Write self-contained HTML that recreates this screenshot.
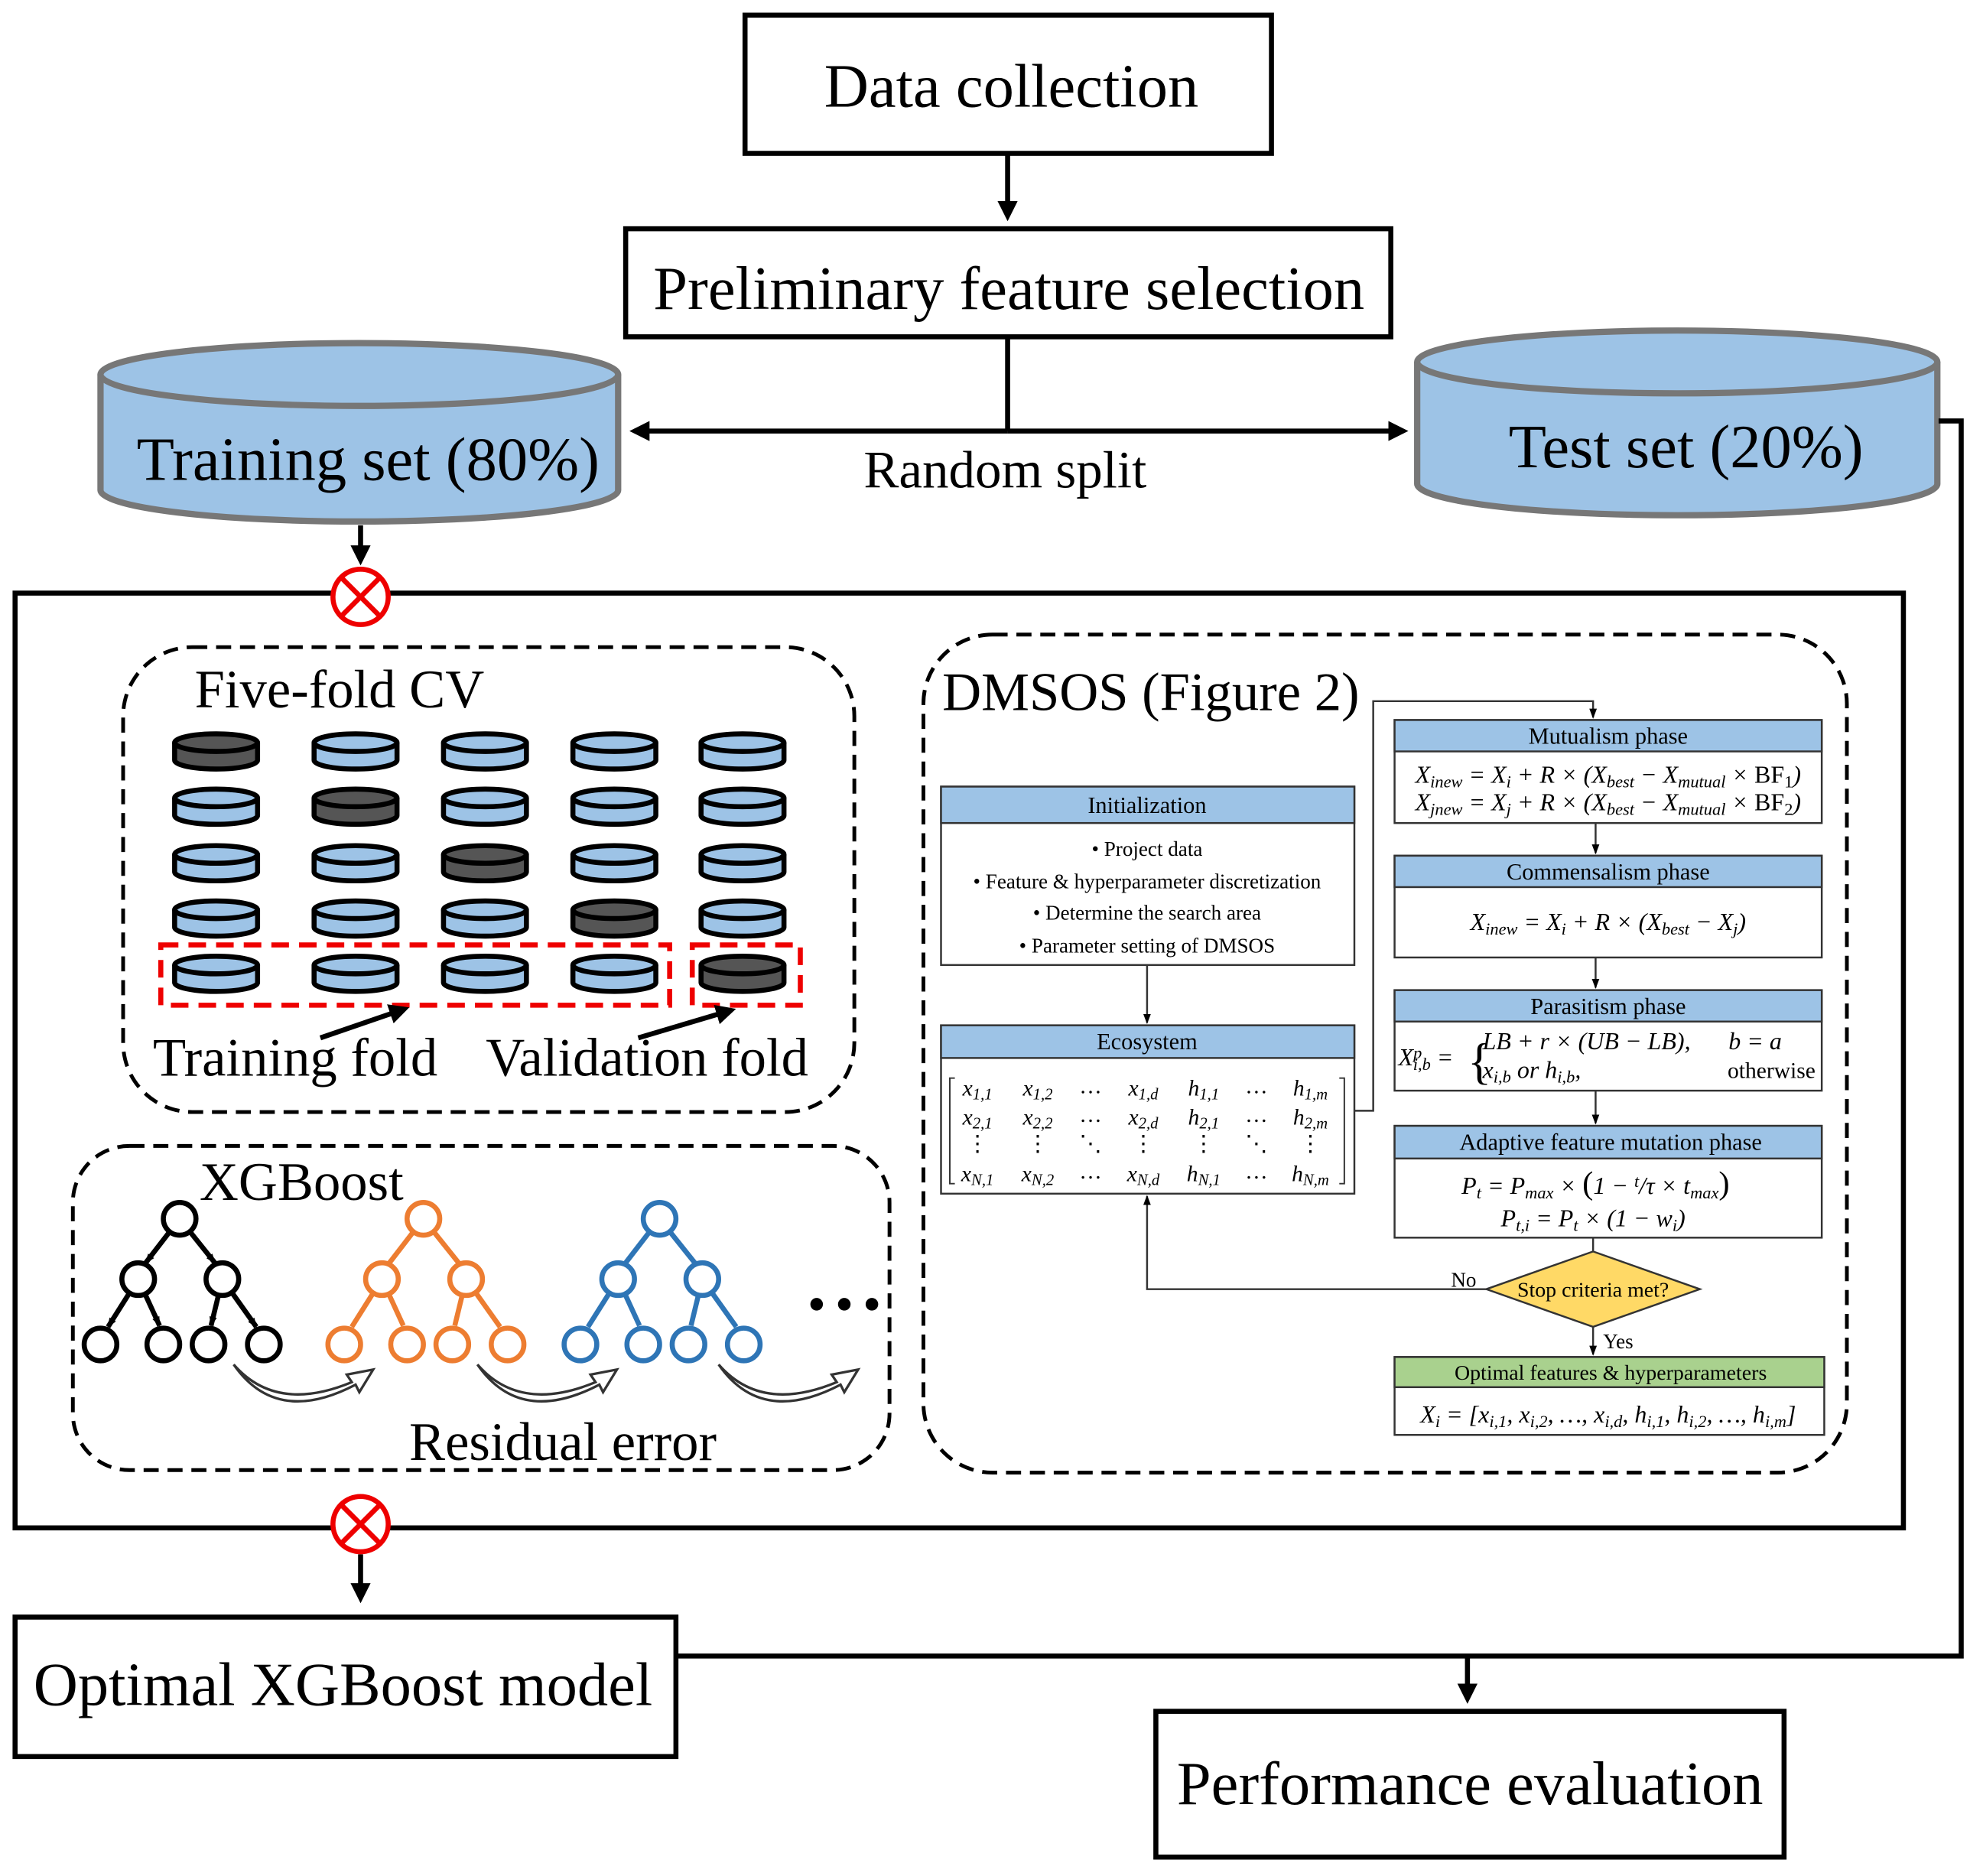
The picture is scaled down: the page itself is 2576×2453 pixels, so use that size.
<!DOCTYPE html>
<html><head><meta charset="utf-8"><style>html,body{margin:0;padding:0;background:#fff}svg{display:block}.s{font-size:70%;baseline-shift:-25%}.p{font-size:70%;baseline-shift:40%}</style></head><body>
<svg width="2576" height="2453" viewBox="0 0 1568 1493" xmlns="http://www.w3.org/2000/svg" font-family="'Liberation Serif', serif">
<defs>
<marker id="ab" markerWidth="4" markerHeight="4" refX="3" refY="2" orient="auto" markerUnits="strokeWidth"><path d="M0,0 L4,2 L0,4 z" fill="#000"/></marker>
<marker id="as" markerWidth="8" markerHeight="8" refX="7" refY="4" orient="auto" markerUnits="userSpaceOnUse"><path d="M0,1 L8,4 L0,7 z" fill="#000"/></marker>
<g id="disk"><path d="M-33,-7 L-33,7 A33,7 0 0 0 33,7 L33,-7" stroke="#000" stroke-width="4"/><ellipse cx="0" cy="-7" rx="33" ry="7" stroke="#000" stroke-width="4"/></g>
</defs>
<rect width="1568" height="1493" fill="#fff"/>
<rect x="593" y="12" width="419" height="110" fill="#fff" stroke="#000" stroke-width="4"/>
<text x="805" y="85" font-size="49" text-anchor="middle">Data collection</text>
<line x1="802" y1="122" x2="802" y2="172" stroke="#000" stroke-width="4" marker-end="url(#ab)"/>
<rect x="498" y="182" width="609" height="86" fill="#fff" stroke="#000" stroke-width="4"/>
<text x="803" y="246" font-size="49" text-anchor="middle">Preliminary feature selection</text>
<line x1="802" y1="268" x2="802" y2="343" stroke="#000" stroke-width="4"/>
<line x1="802" y1="343" x2="505" y2="343" stroke="#000" stroke-width="4" marker-end="url(#ab)"/>
<line x1="802" y1="343" x2="1117" y2="343" stroke="#000" stroke-width="4" marker-end="url(#ab)"/>
<text x="800" y="388" font-size="42" text-anchor="middle">Random split</text>
<path d="M80,298 L80,390 A206,25 0 0 0 492,390 L492,298" fill="#9dc3e6" stroke="#777" stroke-width="5"/>
<ellipse cx="286" cy="298" rx="206" ry="25" fill="#9dc3e6" stroke="#777" stroke-width="5"/>
<text x="293" y="382" font-size="49" text-anchor="middle">Training set (80%)</text>
<path d="M1128,288 L1128,385 A207,25 0 0 0 1542,385 L1542,288" fill="#9dc3e6" stroke="#777" stroke-width="5"/>
<ellipse cx="1335" cy="288" rx="207" ry="25" fill="#9dc3e6" stroke="#777" stroke-width="5"/>
<text x="1342" y="372" font-size="49" text-anchor="middle">Test set (20%)</text>
<polyline points="1543,335 1561,335 1561,1318 538,1318" fill="none" stroke="#000" stroke-width="4"/>
<line x1="1168" y1="1318" x2="1168" y2="1352" stroke="#000" stroke-width="4" marker-end="url(#ab)"/>
<rect x="920" y="1362" width="500" height="116" fill="#fff" stroke="#000" stroke-width="4"/>
<text x="1170" y="1436" font-size="49" text-anchor="middle">Performance evaluation</text>
<rect x="12" y="1287" width="526" height="111" fill="#fff" stroke="#000" stroke-width="4"/>
<text x="273" y="1357" font-size="49" text-anchor="middle">Optimal XGBoost model</text>
<rect x="12" y="472" width="1503" height="744" fill="none" stroke="#000" stroke-width="4"/>
<line x1="287" y1="418" x2="287" y2="446" stroke="#000" stroke-width="4" marker-end="url(#ab)"/>
<g stroke="#e00" stroke-width="4" fill="#fff"><circle cx="287" cy="475" r="22"/><path d="M272,460 L302,490 M302,460 L272,490"/></g>
<line x1="287" y1="1237" x2="287" y2="1272" stroke="#000" stroke-width="4" marker-end="url(#ab)"/>
<g stroke="#e00" stroke-width="4" fill="#fff"><circle cx="287" cy="1213" r="22"/><path d="M272,1198 L302,1228 M302,1198 L272,1228"/></g>
<rect x="98" y="515" width="582" height="370" rx="55" fill="none" stroke="#000" stroke-width="3" stroke-dasharray="12,7"/>
<text x="155" y="563" font-size="43">Five-fold CV</text>
<g>
<use href="#disk" x="172" y="598" fill="#555"/><use href="#disk" x="283" y="598" fill="#9dc3e6"/><use href="#disk" x="386" y="598" fill="#9dc3e6"/><use href="#disk" x="489" y="598" fill="#9dc3e6"/><use href="#disk" x="591" y="598" fill="#9dc3e6"/>
<use href="#disk" x="172" y="642" fill="#9dc3e6"/><use href="#disk" x="283" y="642" fill="#555"/><use href="#disk" x="386" y="642" fill="#9dc3e6"/><use href="#disk" x="489" y="642" fill="#9dc3e6"/><use href="#disk" x="591" y="642" fill="#9dc3e6"/>
<use href="#disk" x="172" y="687" fill="#9dc3e6"/><use href="#disk" x="283" y="687" fill="#9dc3e6"/><use href="#disk" x="386" y="687" fill="#555"/><use href="#disk" x="489" y="687" fill="#9dc3e6"/><use href="#disk" x="591" y="687" fill="#9dc3e6"/>
<use href="#disk" x="172" y="731" fill="#9dc3e6"/><use href="#disk" x="283" y="731" fill="#9dc3e6"/><use href="#disk" x="386" y="731" fill="#9dc3e6"/><use href="#disk" x="489" y="731" fill="#555"/><use href="#disk" x="591" y="731" fill="#9dc3e6"/>
<use href="#disk" x="172" y="775" fill="#9dc3e6"/><use href="#disk" x="283" y="775" fill="#9dc3e6"/><use href="#disk" x="386" y="775" fill="#9dc3e6"/><use href="#disk" x="489" y="775" fill="#9dc3e6"/><use href="#disk" x="591" y="775" fill="#555"/>
</g>
<rect x="128" y="752" width="405" height="48" fill="none" stroke="#e00" stroke-width="4" stroke-dasharray="14,8"/>
<rect x="551" y="752" width="86" height="48" fill="none" stroke="#e00" stroke-width="4" stroke-dasharray="14,8"/>
<line x1="255" y1="826" x2="322" y2="803" stroke="#000" stroke-width="4" marker-end="url(#ab)"/>
<line x1="508" y1="826" x2="582" y2="804" stroke="#000" stroke-width="4" marker-end="url(#ab)"/>
<text x="235" y="856" font-size="43" text-anchor="middle">Training fold</text>
<text x="515" y="856" font-size="43" text-anchor="middle">Validation fold</text>
<rect x="58" y="912" width="650" height="258" rx="45" fill="none" stroke="#000" stroke-width="3" stroke-dasharray="12,7"/>
<text x="240" y="955" font-size="43" text-anchor="middle">XGBoost</text>
<g fill="#fff" stroke-width="4">
<g stroke="#000"><line x1="143" y1="970" x2="116" y2="1005" marker-end="url(#as)"/><line x1="143" y1="970" x2="171" y2="1005" marker-end="url(#as)"/>
<line x1="110" y1="1018" x2="86" y2="1056" marker-end="url(#as)"/><line x1="110" y1="1018" x2="127" y2="1055" marker-end="url(#as)"/>
<line x1="177" y1="1018" x2="168" y2="1055" marker-end="url(#as)"/><line x1="177" y1="1018" x2="204" y2="1056" marker-end="url(#as)"/>
<circle cx="143" cy="970" r="13"/><circle cx="110" cy="1018" r="13"/><circle cx="177" cy="1018" r="13"/>
<circle cx="80" cy="1070" r="13"/><circle cx="130" cy="1070" r="13"/><circle cx="166" cy="1070" r="13"/><circle cx="210" cy="1070" r="13"/></g>
</g>
<g transform="translate(194,0)" fill="#fff" stroke-width="4"><g stroke="#ed7d31"><line x1="143" y1="970" x2="116" y2="1005"/><line x1="143" y1="970" x2="171" y2="1005"/>
<line x1="110" y1="1018" x2="86" y2="1056"/><line x1="110" y1="1018" x2="127" y2="1055"/>
<line x1="177" y1="1018" x2="168" y2="1055"/><line x1="177" y1="1018" x2="204" y2="1056"/>
<circle cx="143" cy="970" r="13"/><circle cx="110" cy="1018" r="13"/><circle cx="177" cy="1018" r="13"/>
<circle cx="80" cy="1070" r="13"/><circle cx="130" cy="1070" r="13"/><circle cx="166" cy="1070" r="13"/><circle cx="210" cy="1070" r="13"/></g></g>
<g transform="translate(382,0)" fill="#fff" stroke-width="4"><g stroke="#2e75b6"><line x1="143" y1="970" x2="116" y2="1005"/><line x1="143" y1="970" x2="171" y2="1005"/>
<line x1="110" y1="1018" x2="86" y2="1056"/><line x1="110" y1="1018" x2="127" y2="1055"/>
<line x1="177" y1="1018" x2="168" y2="1055"/><line x1="177" y1="1018" x2="204" y2="1056"/>
<circle cx="143" cy="970" r="13"/><circle cx="110" cy="1018" r="13"/><circle cx="177" cy="1018" r="13"/>
<circle cx="80" cy="1070" r="13"/><circle cx="130" cy="1070" r="13"/><circle cx="166" cy="1070" r="13"/><circle cx="210" cy="1070" r="13"/></g></g>
<g fill="#000"><circle cx="650" cy="1038" r="5"/><circle cx="672" cy="1038" r="5"/><circle cx="694" cy="1038" r="5"/></g>
<g fill="#fff" stroke="#333" stroke-width="2">
<path d="M186,1086 Q220,1125 280,1100 L276,1094 L297,1090 L286,1108 L283,1102 Q220,1135 186,1086 z"/>
<path d="M380,1086 Q414,1125 474,1100 L470,1094 L491,1090 L480,1108 L477,1102 Q414,1135 380,1086 z"/>
<path d="M572,1086 Q606,1125 666,1100 L662,1094 L683,1090 L672,1108 L669,1102 Q606,1135 572,1086 z"/>
</g>
<text x="448" y="1162" font-size="43" text-anchor="middle">Residual error</text>
<rect x="735" y="505" width="735" height="667" rx="55" fill="none" stroke="#000" stroke-width="3" stroke-dasharray="12,7"/>
<text x="750" y="565" font-size="43">DMSOS (Figure 2)</text>
<g stroke="#333" stroke-width="1.5">
<rect x="749" y="626" width="329" height="142" fill="#fff"/><rect x="749" y="626" width="329" height="29" fill="#9dc3e6"/>
<rect x="749" y="816" width="329" height="134" fill="#fff"/><rect x="749" y="816" width="329" height="26" fill="#9dc3e6"/>
<rect x="1110" y="573" width="340" height="82" fill="#fff"/><rect x="1110" y="573" width="340" height="25" fill="#9dc3e6"/>
<rect x="1110" y="681" width="340" height="81" fill="#fff"/><rect x="1110" y="681" width="340" height="25" fill="#9dc3e6"/>
<rect x="1110" y="788" width="340" height="80" fill="#fff"/><rect x="1110" y="788" width="340" height="25" fill="#9dc3e6"/>
<rect x="1110" y="896" width="340" height="89" fill="#fff"/><rect x="1110" y="896" width="340" height="26" fill="#9dc3e6"/>
<rect x="1110" y="1080" width="342" height="62" fill="#fff"/><rect x="1110" y="1080" width="342" height="24" fill="#a9d18e"/>
<path d="M1268,996 L1353,1026 L1268,1056 L1183,1026 z" fill="#ffd966"/>
</g>
<g stroke="#333" stroke-width="1.5" fill="none">
<line x1="913" y1="768" x2="913" y2="814" marker-end="url(#as)"/>
<polyline points="1078,884 1093,884 1093,558 1268,558 1268,571" marker-end="url(#as)"/>
<line x1="1270" y1="655" x2="1270" y2="679" marker-end="url(#as)"/>
<line x1="1270" y1="762" x2="1270" y2="786" marker-end="url(#as)"/>
<line x1="1270" y1="868" x2="1270" y2="894" marker-end="url(#as)"/>
<line x1="1268" y1="985" x2="1268" y2="996"/>
<line x1="1268" y1="1056" x2="1268" y2="1078" marker-end="url(#as)"/>
<polyline points="1183,1026 913,1026 913,952" marker-end="url(#as)"/>
</g>
<g font-size="18.5" text-anchor="middle">
<text x="913" y="647">Initialization</text>
<text x="913" y="835">Ecosystem</text>
<text x="1280" y="592">Mutualism phase</text>
<text x="1280" y="700">Commensalism phase</text>
<text x="1280" y="807">Parasitism phase</text>
<text x="1282" y="915">Adaptive feature mutation phase</text>
<text x="1282" y="1098" font-size="17">Optimal features &amp; hyperparameters</text>
</g>
<g font-size="16.5" text-anchor="middle">
<text x="913" y="681">•  Project data</text>
<text x="913" y="707">•  Feature &amp; hyperparameter discretization</text>
<text x="913" y="732">•  Determine the search area</text>
<text x="913" y="758">•  Parameter setting of DMSOS</text>
<text x="1165" y="1024">No</text>
<text x="1288" y="1073">Yes</text>
<text x="1268" y="1032" font-size="17">Stop criteria met?</text>
</g>
<g font-size="18" font-style="italic" text-anchor="middle">
<g>
<text x="778" y="872">x<tspan class="s">1,1</tspan></text><text x="826" y="872">x<tspan class="s">1,2</tspan></text><text x="868" y="870" font-style="normal">…</text><text x="910" y="872">x<tspan class="s">1,d</tspan></text><text x="958" y="872">h<tspan class="s">1,1</tspan></text><text x="1000" y="870" font-style="normal">…</text><text x="1043" y="872">h<tspan class="s">1,m</tspan></text>
<text x="778" y="895">x<tspan class="s">2,1</tspan></text><text x="826" y="895">x<tspan class="s">2,2</tspan></text><text x="868" y="893" font-style="normal">…</text><text x="910" y="895">x<tspan class="s">2,d</tspan></text><text x="958" y="895">h<tspan class="s">2,1</tspan></text><text x="1000" y="893" font-style="normal">…</text><text x="1043" y="895">h<tspan class="s">2,m</tspan></text>
<text x="778" y="916" font-style="normal">⋮</text><text x="826" y="916" font-style="normal">⋮</text><text x="868" y="916" font-style="normal">⋱</text><text x="910" y="916" font-style="normal">⋮</text><text x="958" y="916" font-style="normal">⋮</text><text x="1000" y="916" font-style="normal">⋱</text><text x="1043" y="916" font-style="normal">⋮</text>
<text x="778" y="940">x<tspan class="s">N,1</tspan></text><text x="826" y="940">x<tspan class="s">N,2</tspan></text><text x="868" y="938" font-style="normal">…</text><text x="910" y="940">x<tspan class="s">N,d</tspan></text><text x="958" y="940">h<tspan class="s">N,1</tspan></text><text x="1000" y="938" font-style="normal">…</text><text x="1043" y="940">h<tspan class="s">N,m</tspan></text>
</g>
</g>
<g font-size="19.5" font-style="italic" text-anchor="middle">
<text x="1280" y="623">X<tspan class="s">inew</tspan> = X<tspan class="s">i</tspan> + R × (X<tspan class="s">best</tspan> − X<tspan class="s">mutual</tspan> × <tspan font-style="normal">BF</tspan><tspan class="s" font-style="normal">1</tspan>)</text>
<text x="1280" y="645">X<tspan class="s">jnew</tspan> = X<tspan class="s">j</tspan> + R × (X<tspan class="s">best</tspan> − X<tspan class="s">mutual</tspan> × <tspan font-style="normal">BF</tspan><tspan class="s" font-style="normal">2</tspan>)</text>
<text x="1280" y="740">X<tspan class="s">inew</tspan> = X<tspan class="s">i</tspan> + R × (X<tspan class="s">best</tspan> − X<tspan class="s">j</tspan>)</text>
<text x="1113" y="848" text-anchor="start">X<tspan class="p">p</tspan><tspan dx="-7" class="s">i,b</tspan> =</text>
<text x="1168" y="858" text-anchor="start" font-size="40" font-style="normal">{</text>
<text x="1180" y="835" text-anchor="start">LB + r × (UB − LB),</text>
<text x="1180" y="858" text-anchor="start">x<tspan class="s">i,b</tspan> or h<tspan class="s">i,b</tspan>,</text>
<text x="1397" y="835">b = a</text>
<text x="1410" y="858" font-style="normal" font-size="18">otherwise</text>
<text x="1270" y="950">P<tspan class="s">t</tspan> = P<tspan class="s">max</tspan> × <tspan font-style="normal" font-size="26">(</tspan>1 − <tspan class="p">t</tspan>/τ × t<tspan class="s">max</tspan><tspan font-style="normal" font-size="26">)</tspan></text>
<text x="1268" y="976">P<tspan class="s">t,i</tspan> = P<tspan class="s">t</tspan> × (1 − w<tspan class="s">i</tspan>)</text>
<text x="1280" y="1132">X<tspan class="s">i</tspan> = [x<tspan class="s">i,1</tspan>, x<tspan class="s">i,2</tspan>, …, x<tspan class="s">i,d</tspan>, h<tspan class="s">i,1</tspan>, h<tspan class="s">i,2</tspan>, …, h<tspan class="s">i,m</tspan>]</text>
</g>
<g stroke="#333" stroke-width="1.2" fill="none">
<path d="M760,858 L756,858 L756,942 L760,942"/><path d="M1066,858 L1070,858 L1070,942 L1066,942"/>
</g>
</svg>
</body></html>
